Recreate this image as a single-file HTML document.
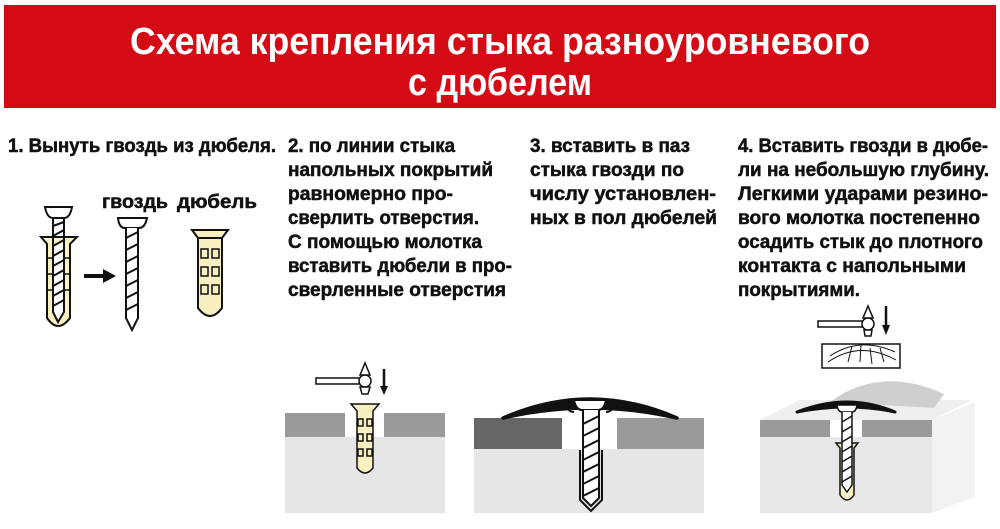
<!DOCTYPE html>
<html><head><meta charset="utf-8"><style>
html,body{margin:0;padding:0;background:#fff;width:1000px;height:529px;overflow:hidden}
svg{display:block}
text{font-family:"Liberation Sans","Noto Sans CJK SC",sans-serif;font-weight:bold;fill:#111}
.b text{stroke:#111;stroke-width:0.5}
</style></head><body>
<svg width="1000" height="529" viewBox="0 0 1000 529" xmlns="http://www.w3.org/2000/svg">
<rect x="4" y="5" width="992" height="103" fill="#d40a14"/>
<text x="130" y="54" font-size="38" style="fill:#fff" textLength="740" lengthAdjust="spacingAndGlyphs">Схема крепления стыка разноуровневого</text>
<text x="408" y="95" font-size="38" style="fill:#fff" textLength="184" lengthAdjust="spacingAndGlyphs">с дюбелем</text>

<g font-size="19" class="b">
<text x="8" y="152" textLength="268" lengthAdjust="spacingAndGlyphs">1. Вынуть гвоздь из дюбеля.</text>
<text x="288" y="152" textLength="167" lengthAdjust="spacingAndGlyphs">2. по линии стыка</text>
<text x="288" y="176" textLength="205" lengthAdjust="spacingAndGlyphs">напольных покрытий</text>
<text x="288" y="200" textLength="165" lengthAdjust="spacingAndGlyphs">равномерно про-</text>
<text x="288" y="224" textLength="191" lengthAdjust="spacingAndGlyphs">сверлить отверстия.</text>
<text x="288" y="248" textLength="194" lengthAdjust="spacingAndGlyphs">С помощью молотка</text>
<text x="288" y="272" textLength="224" lengthAdjust="spacingAndGlyphs">вставить дюбели в про-</text>
<text x="288" y="296" textLength="218" lengthAdjust="spacingAndGlyphs">сверленные отверстия</text>
<text x="530" y="152" textLength="160" lengthAdjust="spacingAndGlyphs">3. вставить в паз</text>
<text x="530" y="176" textLength="154" lengthAdjust="spacingAndGlyphs">стыка гвозди по</text>
<text x="530" y="200" textLength="186" lengthAdjust="spacingAndGlyphs">числу установлен-</text>
<text x="530" y="224" textLength="187" lengthAdjust="spacingAndGlyphs">ных в пол дюбелей</text>
<text x="738" y="152" textLength="250" lengthAdjust="spacingAndGlyphs">4. Вставить гвозди в дюбе-</text>
<text x="738" y="176" textLength="251" lengthAdjust="spacingAndGlyphs">ли на небольшую глубину.</text>
<text x="738" y="200" textLength="250" lengthAdjust="spacingAndGlyphs">Легкими ударами резино-</text>
<text x="738" y="224" textLength="242" lengthAdjust="spacingAndGlyphs">вого молотка постепенно</text>
<text x="738" y="248" textLength="245" lengthAdjust="spacingAndGlyphs">осадить стык до плотного</text>
<text x="738" y="272" textLength="228" lengthAdjust="spacingAndGlyphs">контакта с напольными</text>
<text x="738" y="296" textLength="122" lengthAdjust="spacingAndGlyphs">покрытиями.</text>
<text x="102" y="208" textLength="66" lengthAdjust="spacingAndGlyphs">гвоздь</text>
<text x="177" y="208" textLength="80" lengthAdjust="spacingAndGlyphs">дюбель</text>
</g>

<!-- step1: screw in dowel -->
<g stroke="#111" stroke-width="2" fill="none">
<path d="M41 237 H77 L70 244 V318 Q58 334 47 318 V244 Z" fill="#f8f0c0"/>
<path d="M53 244 V312 L58 322 L64 312 V244" fill="#fff"/>
<path d="M45 207 H72 Q70 218 64 218 H53 Q47 218 45 207 Z" fill="#fff"/>
<path d="M53 218 V312 M64 218 V312"/>
<path d="M53 226 L64 222 M53 236 L64 230 M53 246 L64 240 M53 256 L64 250 M53 266 L64 260 M53 276 L64 270 M53 286 L64 280 M53 296 L64 290 M53 306 L64 300"/>
<path d="M47 258 H53 M47 274 H53 M47 290 H53 M64 258 H70 M64 274 H70 M64 290 H70" stroke-width="1.5"/>
</g>
<path d="M84 276 H105" stroke="#111" stroke-width="4"/>
<path d="M103 269 L116 276 L103 283 Z" fill="#111"/>
<!-- nail -->
<g stroke="#111" stroke-width="2" fill="#fff">
<path d="M118 218 H147 Q145 228 139 228 H125 Q119 228 118 218 Z"/>
<path d="M126 228 V318 L132 330 L138 318 V228" />
<path d="M126 238 L138 232 M126 250 L138 244 M126 262 L138 256 M126 274 L138 268 M126 286 L138 280 M126 298 L138 292 M126 310 L138 304" fill="none"/>
</g>
<!-- dowel -->
<g stroke="#111" stroke-width="2">
<path d="M192 230 H228 L222 238 V308 Q210 324 198 308 V238 Z" fill="#f8f0c0"/>
<path d="M198 238 H222" fill="none"/>
<g fill="#f8f0c0" stroke-width="1.5"><rect x="201" y="249" width="7" height="9"/><rect x="212" y="249" width="7" height="9"/><rect x="201" y="267" width="7" height="9"/><rect x="212" y="267" width="7" height="9"/><rect x="201" y="285" width="7" height="9"/><rect x="212" y="285" width="7" height="9"/></g>
</g>

<!-- step2 -->
<rect x="285" y="437" width="160" height="76" fill="#e6e6e6"/>
<rect x="285" y="413" width="60" height="24" fill="#9a9a9a"/>
<rect x="384" y="413" width="61" height="24" fill="#9a9a9a"/>
<g stroke="#111" stroke-width="1.5">
<path d="M351 404 H379 L373 411 V468 Q365 478 357 468 V411 Z" fill="#f8f0c0"/>
<g fill="#f8f0c0"><rect x="358" y="419" width="5" height="7"/><rect x="367" y="419" width="5" height="7"/><rect x="358" y="434" width="5" height="7"/><rect x="367" y="434" width="5" height="7"/><rect x="358" y="449" width="5" height="7"/><rect x="367" y="449" width="5" height="7"/></g>
<rect x="316" y="378" width="44" height="6" fill="#fff"/>
<circle cx="365" cy="381" r="6" fill="#fff"/>
<path d="M360 375 L365 363 L370 375 Z M360 387 H370 L368 394 H362 Z" fill="#fff"/>
</g>
<path d="M384 369 V388" stroke="#111" stroke-width="2.5"/><path d="M380 386 L384 395 L388 386 Z" fill="#111"/>

<!-- step3 -->
<rect x="474" y="449" width="230" height="64" fill="#e6e6e6"/>
<rect x="474" y="418" width="88" height="31" fill="#666"/>
<rect x="617" y="418" width="87" height="31" fill="#9a9a9a"/>
<rect x="562" y="418" width="55" height="31" fill="#fff"/>
<path d="M503 418 Q590 380 677 418 Q590 398 503 418 Z" fill="#111" stroke="#111" stroke-width="3.5" stroke-linejoin="round"/>
<g stroke="#111" stroke-width="2" fill="#fff">
<path d="M566 400 Q566 412 574 412 M614 400 Q614 412 606 412" fill="none"/>
<path d="M574 400 H606 Q604 410 598 410 H582 Q576 410 574 400 Z"/>
<path d="M580 450 V500 L591 511 L602 500 V450" fill="#ddd" />
<path d="M583 410 V498 L591 506 L599 498 V410"/>
<path d="M583 424 L599 416 M583 436 L599 428 M583 448 L599 440 M583 460 L599 452 M583 472 L599 464 M583 484 L599 476 M583 496 L599 488" fill="none"/>
</g>

<!-- step4 -->
<g stroke="#111" stroke-width="1.5" fill="#fff">
<rect x="818" y="321" width="48" height="6"/>
<circle cx="868" cy="324" r="6"/>
<path d="M863 318 L868 306 L873 318 Z M864 330 H872 L871 336 H865 Z"/>
<rect x="822" y="344" width="78" height="24"/>
<path d="M828 362 Q860 340 896 360 M830 356 Q860 336 895 352 M848 362 L852 346 M860 362 L861 345 M872 364 L870 348 M884 362 L880 348" fill="none" stroke-width="1"/>
</g>
<path d="M886 306 V327" stroke="#111" stroke-width="2.5"/><path d="M882 325 L886 335 L890 325 Z" fill="#111"/>
<polygon points="760,420 800,400 972,400 932,420" fill="#efefef"/>
<path d="M830 402 Q880 365 944 394 L934 408 Z" fill="#cfcfcf"/>
<polygon points="932,420 975,402 975,497 932,513" fill="#f2f2f2"/>
<rect x="760" y="437" width="172" height="76" fill="#e8e8e8"/>
<rect x="760" y="420" width="70" height="17" fill="#9a9a9a"/>
<rect x="862" y="420" width="70" height="17" fill="#9a9a9a"/>
<path d="M797 412 Q848 392 895 412 Q848 402 797 412 Z" fill="#111" stroke="#111" stroke-width="3" stroke-linejoin="round"/>
<g stroke="#111" stroke-width="1.5" fill="#fff">
<path d="M837 405 H857 Q856 412 852 412 H842 Q838 412 837 405 Z"/>
<path d="M836 443 H858 L854 448 V495 Q847 505 840 495 V448 Z" fill="#f8f0c0"/>
<path d="M842 412 V485 L847 492 L852 485 V412"/>
<path d="M842 422 L852 416 M842 432 L852 426 M842 442 L852 436 M842 452 L852 446 M842 462 L852 456 M842 472 L852 466 M842 482 L852 476" fill="none"/>
</g>
</svg>
</body></html>
